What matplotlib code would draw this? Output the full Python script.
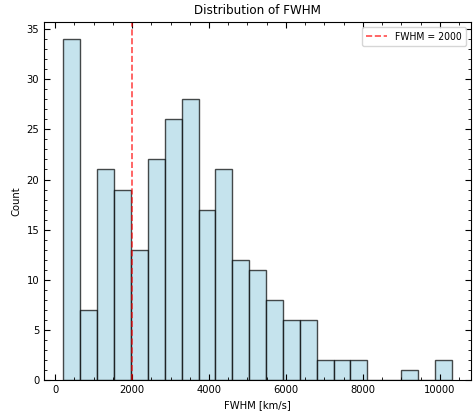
import numpy as np
import matplotlib
matplotlib.use("Agg")
import matplotlib.pyplot as plt
from matplotlib.ticker import MultipleLocator

# Histogram data
fwhm_min = 216.0
fwhm_max = 10312.0
n_bins = 23
counts = [34, 7, 21, 19, 13, 22, 26, 28, 17, 21, 12, 11, 8, 6, 6, 2, 2, 2, 0, 0, 1, 0, 2]
threshold = 2000

edges = np.linspace(fwhm_min, fwhm_max, n_bins + 1)
centers = 0.5 * (edges[:-1] + edges[1:])

plt.rcParams['font.family'] = ['DejaVu Sans']
plt.rcParams['font.stretch'] = 'condensed'

fig = plt.figure(figsize=(4.74, 4.18), dpi=100)
ax = fig.add_axes([0.093, 0.091, 0.901, 0.856])

ax.hist(centers, bins=edges, weights=counts, color='lightblue', edgecolor='black',
        alpha=0.7, linewidth=1.0)
ax.axvline(threshold, color='red', linestyle='--', alpha=0.7, linewidth=1.2,
           label=f'FWHM = {threshold}')

ax.set_title('Distribution of FWHM', fontsize=9.5, stretch='condensed')
ax.set_xlabel('FWHM [km/s]', fontsize=8, stretch='condensed')
ax.set_ylabel('Count', fontsize=8, stretch='condensed')
ax.xaxis.set_minor_locator(MultipleLocator(500))
ax.yaxis.set_minor_locator(MultipleLocator(1))
ax.tick_params(which='both', direction='in', top=True, right=True, labelsize=8)
ax.tick_params(which='major', length=4)
ax.tick_params(which='minor', length=2)
ax.legend(fontsize=7.5, loc='upper right')

fig.savefig('out.png', dpi=100)
